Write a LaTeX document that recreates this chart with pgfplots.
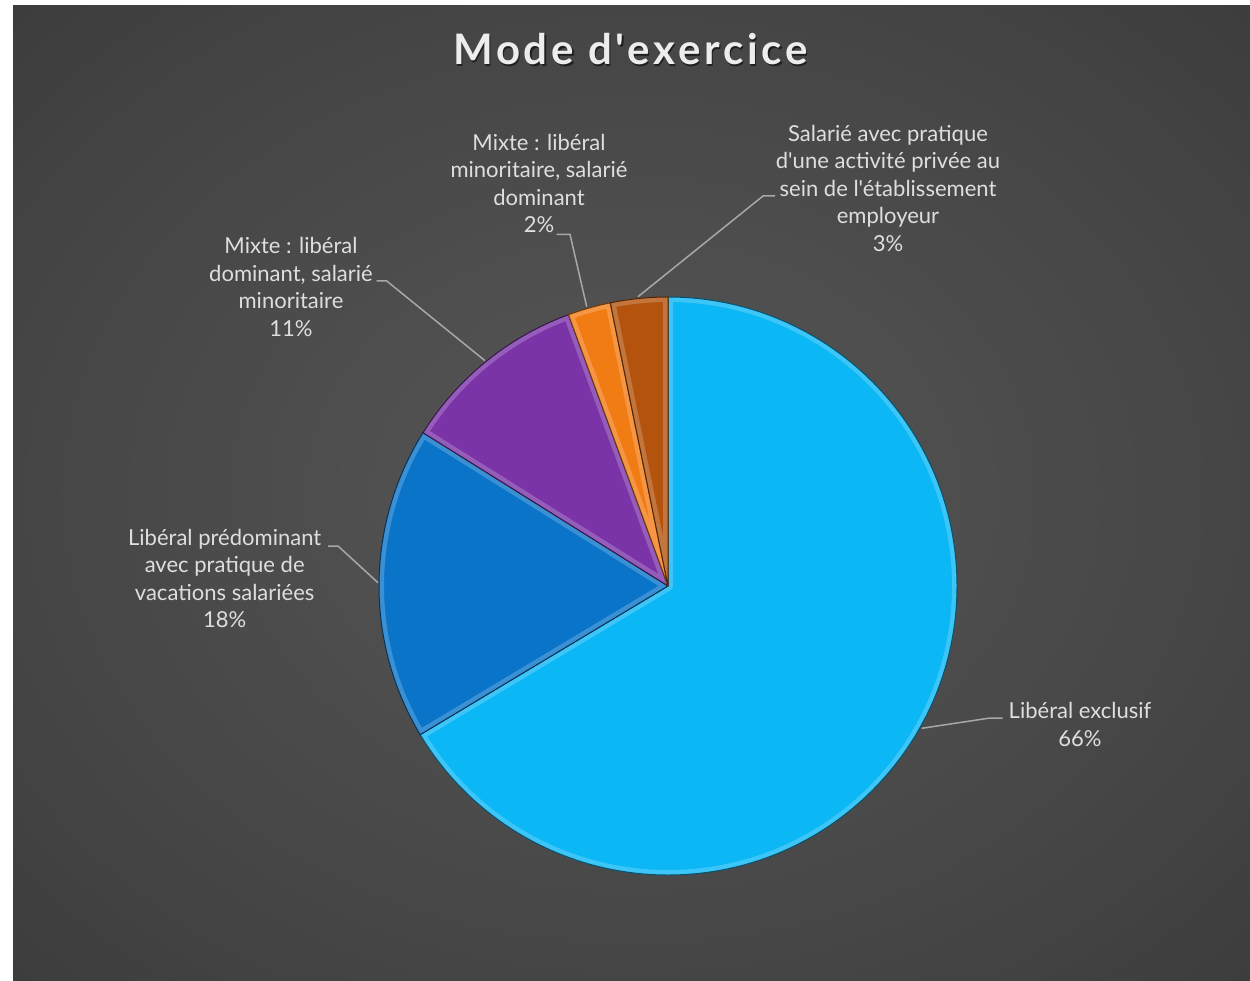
\documentclass[border=0pt]{standalone}
\usepackage{pgfplots}
\pgfplotsset{compat=1.18}
\usepackage{pgfplotstable}
\usepackage{fontspec}
\setmainfont{Lato}[Ligatures=TeXOff]

\definecolor{sA}{HTML}{0BB7F5}
\definecolor{sB}{HTML}{0A74C9}
\definecolor{sC}{HTML}{7A34A8}
\definecolor{sD}{HTML}{F27C14}
\definecolor{sE}{HTML}{B4530D}
\definecolor{lbl}{HTML}{DEDEDE}
\definecolor{lead}{HTML}{A8A8A8}
\definecolor{bgA}{HTML}{575757}
\definecolor{bgB}{HTML}{434343}
\definecolor{bgC}{HTML}{2C2C2C}
\definecolor{bgD}{HTML}{252525}
\pgfdeclareradialshading{bgshade}{\pgfpoint{0bp}{0bp}}{color(0bp)=(bgA); color(28bp)=(bgB); color(55bp)=(bgC); color(71bp)=(bgD)}

\pgfplotstableread{
share
66.4
17.5
10.5
2.4
3.2
}\piedata

\newcommand\lblfont{\fontsize{22.1}{27.6}\selectfont}

\begin{document}
\begin{tikzpicture}
\fill[white] (0,0) rectangle (1250bp,981bp);
\fill[bgD] (13bp,-10bp) rectangle (1260bp,975bp);
\shade[shading=bgshade] (13bp,-2bp) rectangle (1252bp,975bp);
\begin{axis}[
  scale only axis, width=1250bp, height=981bp,
  xmin=0, xmax=1250, ymin=0, ymax=981, y dir=reverse,
  hide axis, clip=false,
]
\pgfplotsextra{%
  \gdef\cum{0}%
  \foreach \i/\col in {0/sA,1/sB,2/sC,3/sD,4/sE}{%
    \pgfplotstablegetelem{\i}{share}\of\piedata
    \let\v\pgfplotsretval
    \pgfmathsetmacro\a{90-3.6*\cum}%
    \pgfmathsetmacro\b{90-3.6*(\cum+\v)}%
    \pgfmathsetmacro\c{\cum+\v}\xdef\cum{\c}%
    \def\slice{(axis cs:668,586) -- ++(\a:289bp) arc[start angle=\a, end angle=\b, radius=289bp] -- cycle}%
    \fill[\col] \slice;
    \begin{scope}
      \clip \slice;
      \draw[line width=10bp, \col!55!white, opacity=0.45, line join=round] \slice;
    \end{scope}
    \draw[line width=1bp, \col!45!black, line join=round] \slice;
  }%
}
% leader lines
\tikzset{ld/.style={lead, line width=1.5bp}}
\draw[ld] (axis cs:1002.7,718) -- (axis cs:990,718) -- (axis cs:921.7,728.3);
\draw[ld] (axis cs:328,546) -- (axis cs:338,546) -- (axis cs:378,582.7);
\draw[ld] (axis cs:376.7,281) -- (axis cs:386.7,281) -- (axis cs:485,360.7);
\draw[ld] (axis cs:556.7,234.3) -- (axis cs:570,234.3) -- (axis cs:586.7,306.7);
\draw[ld] (axis cs:775,196) -- (axis cs:763,196) -- (axis cs:638,296.7);
% labels
\tikzset{lb/.style={text=lbl, align=center, anchor=south, inner sep=0pt, font=\lblfont}}
\node[lb] at (axis cs:1080,746.7) {Libéral exclusif\\66\%};
\node[lb] at (axis cs:224.7,628.3) {Libéral prédominant\\avec pratique de\\vacations salariées\\18\%};
\node[lb] at (axis cs:291,336.7) {Mixte : libéral\\dominant, salarié\\minoritaire\\11\%};
\node[lb] at (axis cs:539,233.3) {Mixte : libéral\\minoritaire, salarié\\dominant\\2\%};
\node[lb] at (axis cs:888,251.7) {Salarié avec pratique\\d'une activité privée au\\sein de l'établissement\\employeur\\3\%};
% title
\node[anchor=base, inner sep=0pt, text=black, opacity=0.55] at (axis cs:632,66.5) {\fontsize{42.2}{50}\selectfont\bfseries\addfontfeature{LetterSpace=9}Mode d'exercice};
\node[anchor=base, inner sep=0pt, text=white!93!black] at (axis cs:630.5,65) {\fontsize{42.2}{50}\selectfont\bfseries\addfontfeature{LetterSpace=9}Mode d'exercice};
\end{axis}
\pgfresetboundingbox
\path (0,0) rectangle (1250bp,981bp);
\end{tikzpicture}
\end{document}
